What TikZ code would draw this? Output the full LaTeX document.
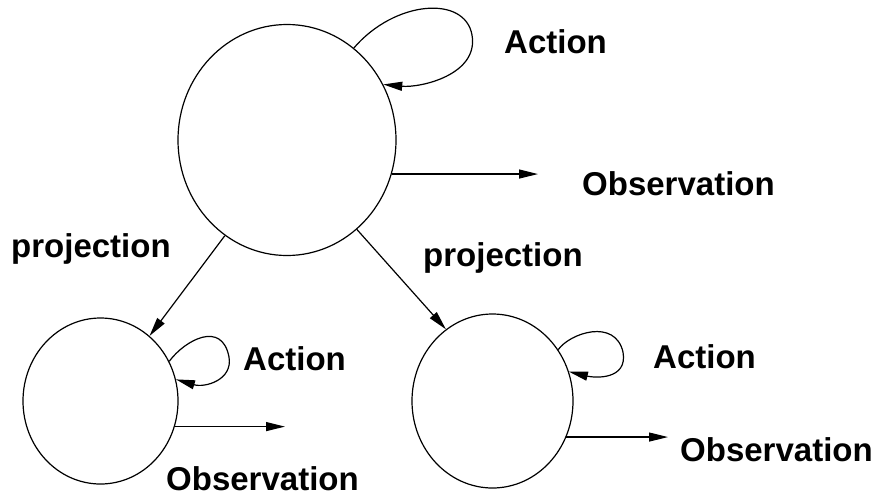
\documentclass[tikz,border=0pt]{standalone}
\usepackage{fontspec}
\setmainfont{Liberation Sans}
\usetikzlibrary{shapes.geometric,arrows.meta}
\begin{document}
\begin{tikzpicture}[x=1pt,y=-1pt,
  state/.style={draw,ellipse,line width=1.2pt,inner sep=0pt},
  arr/.style={line width=1.2pt,-{Triangle[length=19pt,width=9pt]}},
  lbl/.style={anchor=base west,inner sep=0pt,font=\bfseries\fontsize{33}{40}\selectfont}]
\useasboundingbox (0,0) rectangle (872,501);

% states
\node[state,minimum width=218pt,minimum height=231pt] (big) at (287,140) {};
\node[state,minimum width=155pt,minimum height=166pt] (L) at (100.5,401) {};
\node[state,minimum width=161pt,minimum height=174pt] (R) at (492.5,401) {};

% free ends of the observation arrows
\coordinate (obsB) at (538,174);
\coordinate (obsL) at (285,426);
\coordinate (obsR) at (668,437);

% self loops
\draw[arr] (big.54) .. controls (395,0) and (465,-5) .. (472,35)
  .. controls (479,75) and (420,88) .. (big.30);
\draw[arr] (L.30) .. controls (185,340) and (222,320) .. (229,357)
  .. controls (233,380) and (205,388) .. (L.16);
\draw[arr] (R.38) .. controls (570,333) and (615,318) .. (623,352)
  .. controls (628,380) and (595,378) .. (R.21);

% observations
\draw[arr] (big.-18) -- (big.-18 -| obsB);
\draw[arr] (L.-19) -- (L.-19 -| obsL);
\draw[arr] (R.-26) -- (R.-26 -| obsR);

% projections
\draw[arr] (big.237) -- (L.53);
\draw[arr] (big.308) -- (R.123);

% labels
\node[lbl] (actB) at (504,53) {Action};
\node[lbl] (obsBt) at (582,195) {Observation};
\node[lbl] (projL) at (11,257) {projection};
\node[lbl] (projR) at (423,266) {projection};
\node[lbl] (actL) at (243,370) {Action};
\node[lbl] (obsLt) at (166,490) {Observation};
\node[lbl] (actR) at (653,368) {Action};
\node[lbl] (obsRt) at (680,461) {Observation};
\end{tikzpicture}
\end{document}
